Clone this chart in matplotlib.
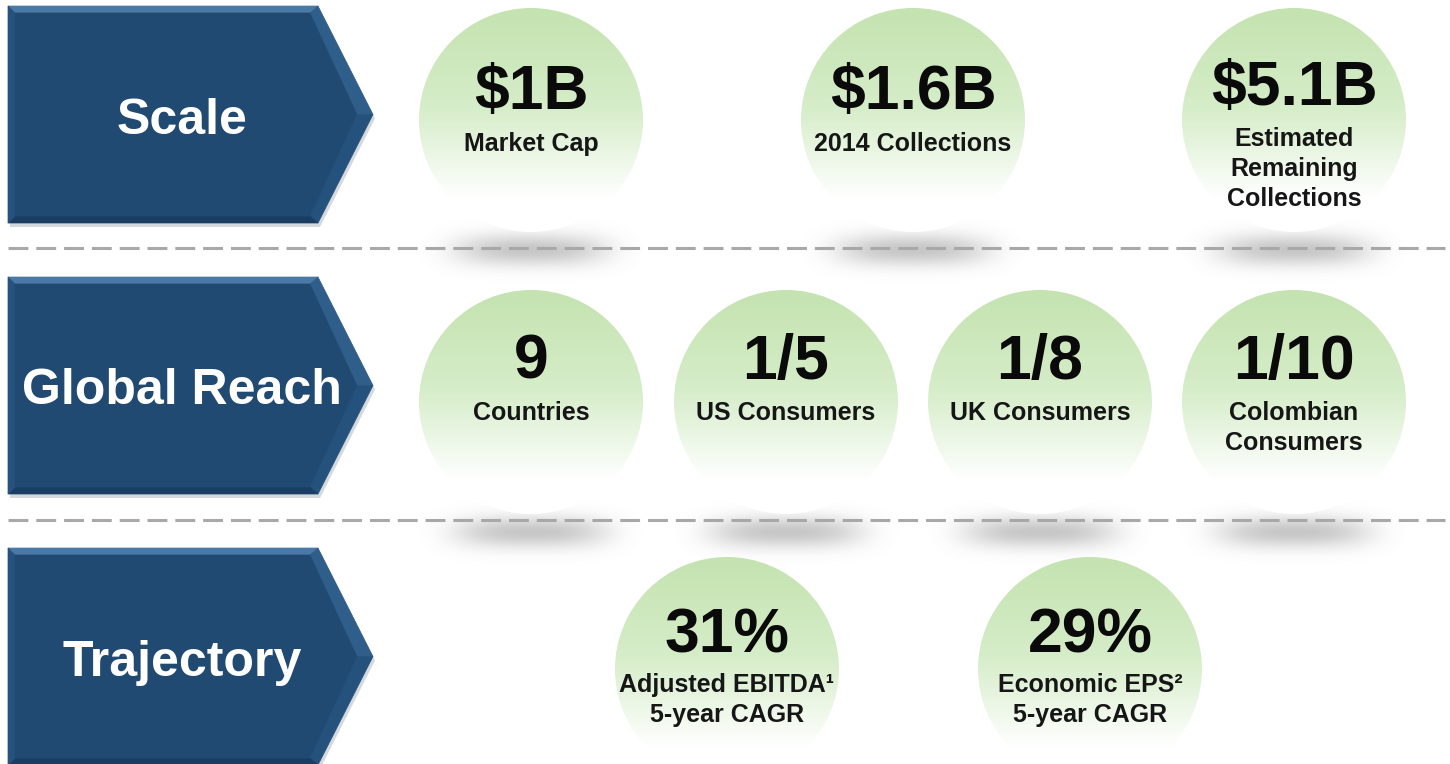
import numpy as np
import matplotlib.pyplot as plt
from matplotlib.patches import Polygon, Circle

# row headers
row_labels = ["Scale", "Global Reach", "Trajectory"]

# big numbers and captions per row
scale_values = ["$1B", "$1.6B", "$5.1B"]
scale_captions = ["Market Cap", "2014 Collections", "Estimated\nRemaining\nCollections"]
reach_values = ["9", "1/5", "1/8", "1/10"]
reach_captions = ["Countries", "US Consumers", "UK Consumers", "Colombian\nConsumers"]
traj_values = ["31%", "29%"]
traj_captions = ["Adjusted EBITDA\u00b9\n5-year CAGR", "Economic EPS\u00b2\n5-year CAGR"]

W, H = 1450, 764
fig = plt.figure(figsize=(W / 100, H / 100), dpi=100)
ax = fig.add_axes([0, 0, 1, 1])
ax.set_xlim(0, W)
ax.set_ylim(H, 0)
ax.axis("off")

FONT = "Liberation Sans"

# layout
row_tops = [6, 277, 548]
row_h = 217
circle_r = 112
row_cy = [120, 402, 669]
row_xs = [[531, 913, 1294], [531, 786, 1040, 1294], [727, 1090]]
value_dy = [-28, -40, -33]
caption_gap = [52, 51, 49]
rows = [(scale_values, scale_captions), (reach_values, reach_captions), (traj_values, traj_captions)]


def chevron(top, h, left=8, shoulder=318, tip=373):
    mid = top + h / 2
    return np.array([[left, top], [shoulder, top], [tip, mid], [shoulder, top + h], [left, top + h]])


def draw_arrow(top, label):
    outer = chevron(top, row_h)
    b = 7
    inner = chevron(top + b, row_h - 2 * b, left=8 + b, shoulder=318 - 8, tip=373 - 16)
    # drop shadow
    ax.add_patch(Polygon(outer + [2, 4], closed=True, fc="#b8c0c8", ec="none", alpha=0.6, zorder=1))
    # bevel facets: top, right-top, right-bottom, bottom, left
    facets = [(0, 1, "#4a79a6"), (1, 2, "#2f5e8b"), (2, 3, "#25517d"), (3, 4, "#1a3e63"), (4, 0, "#26527d")]
    for i, j, c in facets:
        pts = [outer[i], outer[j], inner[j], inner[i]]
        ax.add_patch(Polygon(pts, closed=True, fc=c, ec=c, lw=0.5, zorder=2))
    ax.add_patch(Polygon(inner, closed=True, fc="#204a72", ec="#204a72", lw=0.5, zorder=3))
    ax.text(182, top + row_h / 2 + 6, label, color="white", fontsize=36, fontweight="bold",
            family=FONT, ha="center", va="center", zorder=4)


def draw_shadow(cx, cy):
    xs = np.linspace(-1, 1, 200)
    ys = np.linspace(-1, 1, 80)
    X, Y = np.meshgrid(xs, ys)
    # soft blob that fades to zero at the image border
    a = np.exp(-(X ** 4) / 0.3 - (Y ** 2) / 0.22) * (1 - X ** 2) * (1 - Y ** 2) * 0.4
    img = np.zeros((80, 200, 4))
    img[..., :3] = 0.45
    img[..., 3] = np.clip(a, 0, 1)
    sy = cy + circle_r + 18
    ax.imshow(img, extent=[cx - 120, cx + 120, sy + 38, sy - 38],
              origin="upper", zorder=1, interpolation="bilinear", aspect="auto")


def draw_circle(cx, cy):
    t = np.linspace(0, 1, 256)
    top_c = np.array([0.77, 0.89, 0.69])
    mid_c = np.array([0.84, 0.93, 0.79])
    white = np.array([1.0, 1.0, 1.0])
    cols = np.zeros((256, 3))
    for k, v in enumerate(t):
        if v < 0.45:
            cols[k] = top_c + (mid_c - top_c) * (v / 0.45)
        elif v < 0.85:
            cols[k] = mid_c + (white - mid_c) * ((v - 0.45) / 0.4)
        else:
            cols[k] = white
    img = np.repeat(cols[:, None, :], 4, axis=1)
    circ = Circle((cx, cy), circle_r, fc="none", ec="none", zorder=2)
    ax.add_patch(circ)
    im = ax.imshow(img, extent=[cx - circle_r, cx + circle_r, cy + circle_r, cy - circle_r],
                   origin="upper", zorder=2, aspect="auto", interpolation="bilinear")
    im.set_clip_path(circ)


for r in range(3):
    draw_arrow(row_tops[r], row_labels[r])
    vals, caps = rows[r]
    for k, (v, c) in enumerate(zip(vals, caps)):
        cx, cy = row_xs[r][k], row_cy[r]
        draw_shadow(cx, cy)
        draw_circle(cx, cy)
        lines = c.split("\n")
        vy = cy + value_dy[r] - (3 if len(lines) == 3 else 0)
        gap = caption_gap[r] - (2 if len(lines) == 3 else 0)
        ax.text(cx, vy, v, fontsize=45, fontweight="bold", family=FONT, color="#0a0a0a",
                ha="center", va="center", zorder=5)
        for i, line in enumerate(lines):
            ax.text(cx, vy + gap + 30 * i, line, fontsize=18, fontweight="bold", family=FONT,
                    color="#161616", ha="center", va="center", zorder=5)

# dashed separators
for y in [248, 520]:
    ax.plot([8, 1445], [y, y], color="#a8a8a8", lw=2.2, dashes=(6.5, 2.6), zorder=3)

fig.savefig("out.png", dpi=100)
